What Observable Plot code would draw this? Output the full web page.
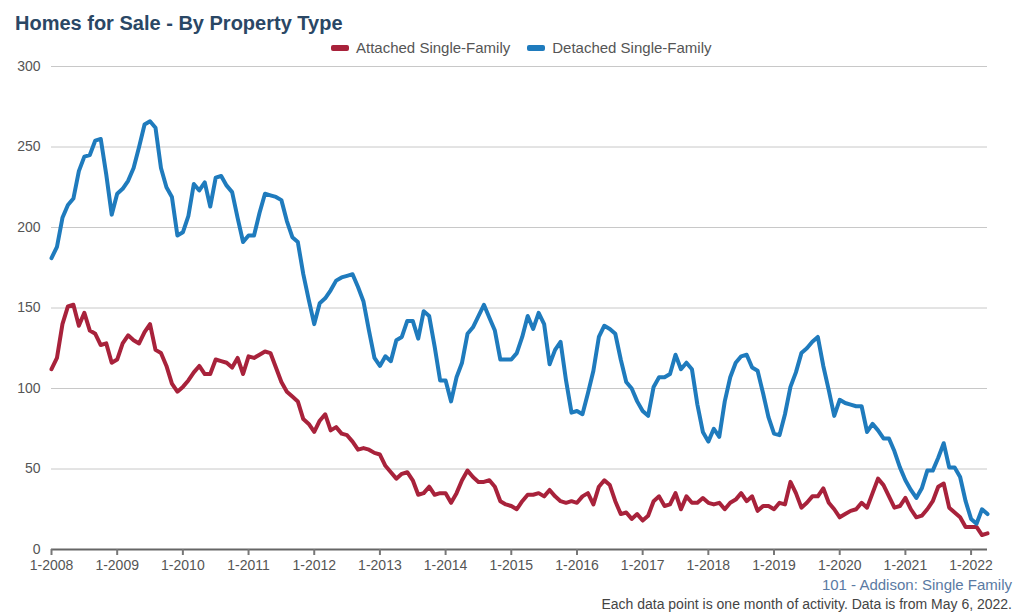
<!DOCTYPE html>
<html>
<head>
<meta charset="utf-8">
<script src="https://cdn.jsdelivr.net/npm/d3@7"></script>
<script src="https://cdn.jsdelivr.net/npm/@observablehq/plot@0.6"></script>
<style>
  body { margin: 0; background: #fff; font-family: "Liberation Sans", Arial, sans-serif; }
  #wrap { position: relative; width: 1024px; height: 615px; overflow: hidden; }
  #chart { position: absolute; left: 0; top: 0; }
  #title { position: absolute; left: 15px; top: 12px; font-size: 20px; font-weight: bold; color: #2a4765; white-space: nowrap; }
  #legend { position: absolute; left: 331px; top: 39px; font-size: 15px; color: #555; white-space: nowrap; }
  #legend span.item { display: inline-block; margin-right: 17px; }
  #legend i { display: inline-block; width: 18px; height: 6px; border-radius: 2px; margin-right: 7px; vertical-align: middle; position: relative; top: -1px; }
  #src { position: absolute; right: 12px; top: 576px; font-size: 15px; color: #5a7aa3; white-space: nowrap; }
  #note { position: absolute; right: 12px; top: 596px; font-size: 14px; color: #444; white-space: nowrap; }
</style>
</head>
<body>
<div id="wrap">
  <div id="chart"></div>
  <div id="title"></div>
  <div id="legend"></div>
  <div id="src"></div>
  <div id="note"></div>
</div>
<script>
// ---- Data (monthly, starting 1-2008) ----
const title = "Homes for Sale - By Property Type";
const seriesNames = ["Attached Single-Family", "Detached Single-Family"];
const seriesColors = ["#a8223b", "#1f7bbd"];
const startYear = 2008;
const tickYears = [2008, 2009, 2010, 2011, 2012, 2013, 2014, 2015, 2016, 2017, 2018, 2019, 2020, 2021, 2022];
const yTicks = [0, 50, 100, 150, 200, 250, 300];
const sourceText = "101 - Addison: Single Family";
const noteText = "Each data point is one month of activity. Data is from May 6, 2022.";

const attached = [
  112,119,140,151,152,139,147,136,134,127,128,116,118,128,133,130,128,135,140,124,122,114,103,98,101,
  105,110,114,109,109,118,117,116,113,119,109,120,119,121,123,122,113,104,98,95,92,81,78,73,80,
  84,74,76,72,71,67,62,63,62,60,59,52,48,44,47,48,43,34,35,39,34,35,35,29,
  35,43,49,45,42,42,43,39,30,28,27,25,30,34,34,35,33,37,33,30,29,30,29,33,
  35,28,39,43,40,30,22,23,19,22,18,21,30,33,27,28,35,25,33,29,29,32,29,28,
  29,25,29,31,35,30,33,24,27,27,25,29,28,42,35,26,29,33,33,38,29,25,20,22,
  24,25,29,26,35,44,40,33,26,27,32,25,20,21,25,30,39,41,26,23,20,14,14,14,9,10
];
const detached = [
  181,188,206,214,218,235,244,245,254,255,233,208,221,224,229,237,250,264,266,262,237,225,219,195,197,
  207,227,223,228,213,231,232,226,222,206,191,195,195,209,221,220,219,217,204,194,191,171,155,140,153,
  156,161,167,169,170,171,163,154,136,119,114,120,117,130,132,142,142,131,148,145,126,105,105,92,
  107,116,134,138,145,152,144,136,118,118,118,122,132,145,137,147,140,115,124,129,105,85,86,84,
  97,111,132,139,137,134,118,104,100,92,86,83,101,107,107,109,121,112,116,112,90,73,67,75,
  70,92,107,116,120,121,113,111,97,82,72,71,84,101,110,122,125,129,132,114,99,83,93,91,
  90,89,89,73,78,74,69,69,61,51,43,37,32,38,49,49,57,66,51,51,45,30,19,16,25,22
];

// ---- Build table ----
const rows = [];
[attached, detached].forEach((arr, s) => {
  arr.forEach((v, i) => rows.push({ t: startYear + i / 12, value: v, series: seriesNames[s] }));
});
const lastT = startYear + (attached.length - 1) / 12;

const chart = Plot.plot({
  width: 1024,
  height: 615,
  marginTop: 66,
  marginBottom: 66,
  marginLeft: 51,
  marginRight: 37,
  style: { fontFamily: "'Liberation Sans', Arial, sans-serif", background: "transparent" },
  x: { domain: [startYear, lastT] },
  y: { domain: [0, 300] },
  color: { domain: seriesNames, range: seriesColors },
  marks: [
    Plot.gridY(yTicks.filter(d => d > 0), { stroke: "#c8c8c8", strokeOpacity: 1, strokeWidth: 1 }),
    Plot.axisY(yTicks, { tickSize: 0, tickPadding: 11, fontSize: 14, fill: "#555", label: null }),
    Plot.ruleY([0], { stroke: "#666", strokeWidth: 2 }),
    Plot.axisX(tickYears, {
      tickSize: 6, tickPadding: 5, fontSize: 14, fill: "#555", stroke: "#777", strokeWidth: 2,
      tickFormat: d => `1-${d}`, label: null
    }),
    Plot.lineY(rows, {
      x: "t", y: "value", z: "series", stroke: "series",
      strokeWidth: 4, strokeLinejoin: "round", strokeLinecap: "round"
    })
  ]
});
document.getElementById("chart").appendChild(chart);

// ---- Text ----
document.getElementById("title").textContent = title;
const legend = document.getElementById("legend");
seriesNames.forEach((n, i) => {
  const item = document.createElement("span");
  item.className = "item";
  const sw = document.createElement("i");
  sw.style.background = seriesColors[i];
  item.appendChild(sw);
  item.appendChild(document.createTextNode(n));
  legend.appendChild(item);
});
document.getElementById("src").textContent = sourceText;
document.getElementById("note").textContent = noteText;
</script>
</body>
</html>
